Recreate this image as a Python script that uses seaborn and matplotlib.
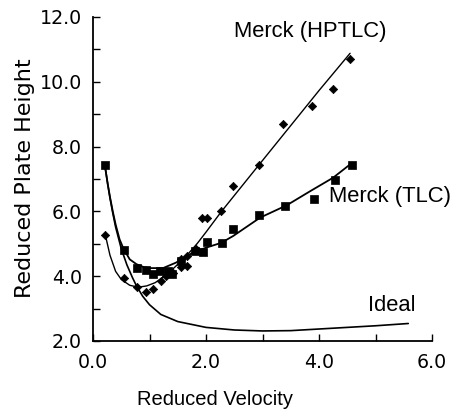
import matplotlib
matplotlib.use("Agg")
import matplotlib.pyplot as plt
import seaborn as sns
import pandas as pd
from matplotlib.ticker import FixedLocator, FuncFormatter

# ---- data ----
hptlc_x = [0.22, 0.54, 0.77, 0.94, 1.06, 1.20, 1.29, 1.41, 1.55, 1.67, 1.55, 1.66,
           1.82, 1.93, 2.01, 2.26, 2.47, 2.93, 3.36, 3.87, 4.25, 4.54]
hptlc_y = [5.26, 3.93, 3.68, 3.50, 3.60, 3.86, 4.01, 4.11, 4.27, 4.32, 4.52, 4.62,
           4.83, 5.81, 5.81, 6.01, 6.78, 7.42, 8.70, 9.26, 9.78, 10.70]

tlc_x = [0.21, 0.54, 0.77, 0.94, 1.06, 1.19, 1.32, 1.39, 1.55, 1.81, 1.94, 2.02,
         2.28, 2.47, 2.94, 3.39, 3.91, 4.28, 4.58]
tlc_y = [7.42, 4.81, 4.24, 4.20, 4.06, 4.16, 4.16, 4.06, 4.47, 4.78, 4.75, 5.05,
         5.01, 5.45, 5.88, 6.18, 6.39, 6.98, 7.42]

hptlc_fit_x = [0.22, 0.30, 0.40, 0.50, 0.65, 0.80, 0.95, 1.10, 1.25, 1.40, 1.55,
               1.70, 1.85, 2.00, 2.27, 2.93, 3.50, 4.00, 4.55]
hptlc_fit_y = [5.26, 4.65, 4.15, 3.90, 3.72, 3.66, 3.70, 3.80, 3.98, 4.20, 4.45,
               4.72, 5.02, 5.36, 5.99, 7.42, 8.65, 9.73, 10.88]

tlc_fit_x = [0.21, 0.26, 0.30, 0.35, 0.40, 0.47, 0.54, 0.65, 0.77, 0.90, 1.00,
             1.24, 1.47, 1.77, 2.00, 2.27, 2.48, 2.96, 3.43, 3.84, 4.25, 4.55]
tlc_fit_y = [7.42, 6.85, 6.45, 6.00, 5.60, 5.14, 4.85, 4.52, 4.37, 4.28, 4.25,
             4.25, 4.42, 4.73, 4.88, 5.03, 5.24, 5.81, 6.19, 6.62, 7.04, 7.45]

ideal_x = [0.21, 0.26, 0.30, 0.35, 0.40, 0.50, 0.60, 0.70, 0.77, 0.88, 1.00, 1.20,
           1.50, 2.00, 2.50, 3.00, 3.50, 4.00, 4.50, 5.00, 5.58]
ideal_y = [7.42, 6.85, 6.42, 5.95, 5.52, 4.85, 4.35, 3.95, 3.70, 3.38, 3.12, 2.82,
           2.60, 2.42, 2.34, 2.31, 2.32, 2.37, 2.42, 2.47, 2.54]

x_ticks = [0, 1, 2, 3, 4, 5, 6]
y_ticks = [2, 3, 4, 5, 6, 7, 8, 9, 10, 11, 12]

labels = {"hptlc": "Merck (HPTLC)", "tlc": "Merck (TLC)", "ideal": "Ideal"}
x_label = "Reduced Velocity"
y_label = "Reduced Plate Height"

# ---- plotting ----
sns.set_theme(style="ticks")
plt.rcParams["font.family"] = ["Liberation Sans", "DejaVu Sans"]

fig = plt.figure(figsize=(4.57, 4.18), dpi=100)
ax = fig.add_axes([93 / 457, 1 - 341 / 418, (432 - 93) / 457, (341 - 17) / 418])

pts_h = pd.DataFrame({"x": hptlc_x, "y": hptlc_y})
pts_t = pd.DataFrame({"x": tlc_x, "y": tlc_y})
fit_h = pd.DataFrame({"x": hptlc_fit_x, "y": hptlc_fit_y})
fit_t = pd.DataFrame({"x": tlc_fit_x, "y": tlc_fit_y})
ideal = pd.DataFrame({"x": ideal_x, "y": ideal_y})

line_kw = dict(ax=ax, color="black", sort=False, estimator=None, solid_capstyle="round")
sns.lineplot(data=fit_h, x="x", y="y", lw=1.0, **line_kw)
sns.lineplot(data=fit_t, x="x", y="y", lw=1.3, **line_kw)
sns.lineplot(data=ideal, x="x", y="y", lw=1.2, **line_kw)
sns.scatterplot(data=pts_h, x="x", y="y", ax=ax, color="black", marker="D", s=18,
                edgecolor="black", linewidth=0.5, zorder=3)
sns.scatterplot(data=pts_t, x="x", y="y", ax=ax, color="black", marker="s", s=30,
                edgecolor="black", linewidth=0.5, zorder=3)

ax.set_xlim(0, 6)
ax.set_ylim(2, 12)
ax.xaxis.set_major_locator(FixedLocator(x_ticks))
ax.yaxis.set_major_locator(FixedLocator(y_ticks))
fmt = FuncFormatter(lambda v, p: f"{v:.1f}" if int(round(v)) % 2 == 0 else "")
ax.xaxis.set_major_formatter(fmt)
ax.yaxis.set_major_formatter(fmt)
ax.tick_params(direction="in", length=5, width=1.0, colors="black")
ax.tick_params(axis="y", pad=8)
ax.tick_params(axis="x", pad=9)
for lab in ax.get_xticklabels() + ax.get_yticklabels():
    lab.set_fontfamily("DejaVu Sans")
    lab.set_fontsize(13.7)
for s in ["top", "right"]:
    ax.spines[s].set_visible(False)
for s in ["left", "bottom"]:
    ax.spines[s].set_color("black")
    ax.spines[s].set_linewidth(1.3)

ax.set_xlabel(x_label, fontsize=14.5, color="black")
ax.set_ylabel(y_label, fontsize=16, color="black", family="DejaVu Sans")
ax.xaxis.set_label_coords((215 - 93) / (432 - 93), -(390 - 341) / (341 - 17))
ax.yaxis.set_label_coords(-(93 - 35) / (432 - 93), (341 - 178) / (341 - 17))

ax.text(2.50, 11.54, labels["hptlc"], fontsize=15.8, color="black", va="center", ha="left")
ax.text(4.18, 6.46, labels["tlc"], fontsize=15.8, color="black", va="center", ha="left")
ax.text(4.87, 3.11, labels["ideal"], fontsize=15.8, color="black", va="center", ha="left")

fig.savefig("out.png", dpi=100)
